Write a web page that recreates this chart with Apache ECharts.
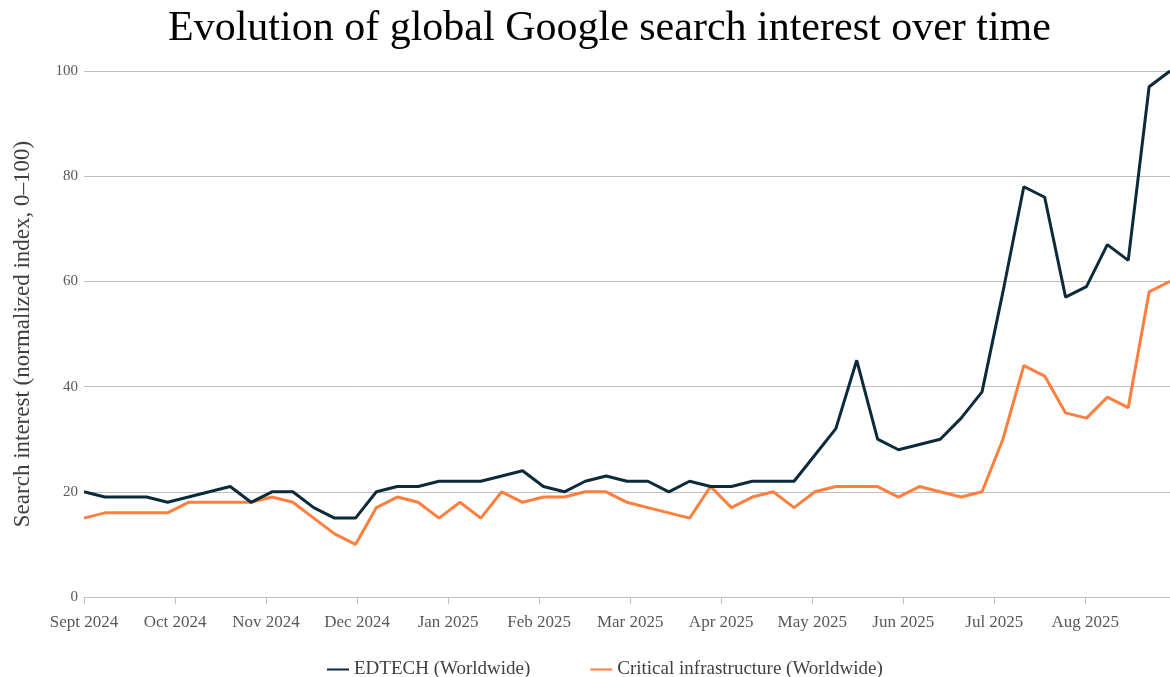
<!DOCTYPE html>
<html>
<head>
<meta charset="utf-8">
<script src="https://cdn.jsdelivr.net/npm/echarts@6/dist/echarts.min.js"></script>
<style>
  html, body { margin: 0; padding: 0; background: #fff; }
  #chart { width: 1170px; height: 677px; }
</style>
</head>
<body>
<div id="chart"></div>
<script>
// weekly Google Trends dates
var weeks = [
  '2024-09-01','2024-09-08','2024-09-15','2024-09-22','2024-09-29',
  '2024-10-06','2024-10-13','2024-10-20','2024-10-27',
  '2024-11-03','2024-11-10','2024-11-17','2024-11-24',
  '2024-12-01','2024-12-08','2024-12-15','2024-12-22','2024-12-29',
  '2025-01-05','2025-01-12','2025-01-19','2025-01-26',
  '2025-02-02','2025-02-09','2025-02-16','2025-02-23',
  '2025-03-02','2025-03-09','2025-03-16','2025-03-23','2025-03-30',
  '2025-04-06','2025-04-13','2025-04-20','2025-04-27',
  '2025-05-04','2025-05-11','2025-05-18','2025-05-25',
  '2025-06-01','2025-06-08','2025-06-15','2025-06-22','2025-06-29',
  '2025-07-06','2025-07-13','2025-07-20','2025-07-27',
  '2025-08-03','2025-08-10','2025-08-17','2025-08-24','2025-08-31'
];

var edtech = [
  20,19,19,19,18,19,20,21,18,20,20,17,15,15,20,21,21,22,22,22,
  23,24,21,20,22,23,22,22,20,22,21,21,22,22,22,27,32,45,30,28,
  29,30,34,39,58,78,76,57,59,67,64,97,100
];

var critical = [
  15,16,16,16,16,18,18,18,18,19,18,15,12,10,17,19,18,15,18,15,
  20,18,19,19,20,20,18,17,16,15,21,17,19,20,17,20,21,21,21,19,
  21,20,19,20,30,44,42,35,34,38,36,58,60
];

// month labels of the date axis (drawn as equal-width months)
var monthLabels = [
  'Sept 2024','Oct 2024','Nov 2024','Dec 2024','Jan 2025','Feb 2025',
  'Mar 2025','Apr 2025','May 2025','Jun 2025','Jul 2025','Aug 2025'
];
var monthSpan = 11.93  // Sept 1 .. Aug 31 in axis months

function pairs(vals){
  return weeks.map(function(d, i){ return [d, vals[i]] })
}

var chart = echarts.init(document.getElementById('chart'))
var serif = '"Liberation Serif", "DejaVu Serif", serif'
var monthIdx = monthLabels.map(function(_, i){ return i })

chart.setOption({
  animation: false,
  textStyle: { fontFamily: serif },
  title: {
    text: 'Evolution of global Google search interest over time',
    left: 163,
    top: 3,
    textStyle: { fontFamily: serif, fontSize: 42, fontWeight: 'normal', color: '#000' }
  },
  legend: {
    top: 655,
    left: 322,
    icon: 'rect',
    itemWidth: 22,
    itemHeight: 2,
    itemGap: 60,
    textStyle: { fontFamily: serif, fontSize: 19, color: '#404040' },
    data: ['EDTECH (Worldwide)', 'Critical infrastructure (Worldwide)']
  },
  grid: { left: 84, right: 0, top: 71, bottom: 80, containLabel: false },
  xAxis: [
    {
      // data axis (weekly dates)
      type: 'time',
      min: '2024-09-01',
      max: '2025-08-31',
      show: false
    },
    {
      // visible month axis
      type: 'value',
      min: 0,
      max: monthSpan,
      position: 'bottom',
      axisLine: { lineStyle: { color: '#bfbfbf', width: 1 } },
      axisTick: { show: true, length: 7, lineStyle: { color: '#bfbfbf' }, customValues: monthIdx },
      splitLine: { show: false },
      axisLabel: {
        customValues: monthIdx,
        fontFamily: serif,
        fontSize: 17,
        color: '#595959',
        margin: 17,
        hideOverlap: false,
        formatter: function(v){ return monthLabels[v] || '' }
      }
    }
  ],
  yAxis: {
    type: 'value',
    min: 0,
    max: 100,
    interval: 20,
    name: 'Search interest (normalized index, 0\u2013100)',
    nameLocation: 'middle',
    nameGap: 50,
    nameTextStyle: { fontFamily: serif, fontSize: 23, color: '#404040' },
    axisLine: { show: false },
    axisTick: { show: false },
    axisLabel: { fontFamily: serif, fontSize: 15, color: '#595959', margin: 6 },
    splitLine: { lineStyle: { color: '#bfbfbf', width: 1 } }
  },
  series: [
    {
      name: 'EDTECH (Worldwide)',
      type: 'line',
      xAxisIndex: 0,
      data: pairs(edtech),
      showSymbol: false,
      symbol: 'none',
      lineStyle: { color: '#0c2b3a', width: 3 },
      itemStyle: { color: '#0c2b3a' },
      z: 3
    },
    {
      name: 'Critical infrastructure (Worldwide)',
      type: 'line',
      xAxisIndex: 0,
      data: pairs(critical),
      showSymbol: false,
      symbol: 'none',
      lineStyle: { color: '#ff7f3e', width: 3 },
      itemStyle: { color: '#ff7f3e' },
      z: 2
    }
  ]
})
</script>
</body>
</html>
